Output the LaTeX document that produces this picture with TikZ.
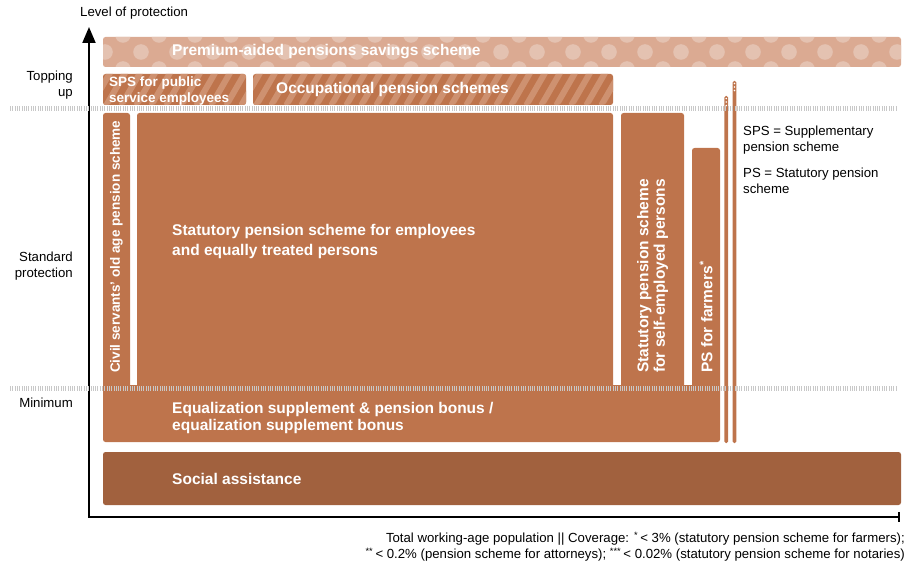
\documentclass[tikz,border=0pt]{standalone}
\usepackage{fontspec}
\setmainfont{Liberation Sans}
\usepackage{xcolor}
\usetikzlibrary{arrows.meta, positioning, calc}

\definecolor{rust}{RGB}{190,116,76}
\definecolor{rustdark}{RGB}{161,97,62}
\definecolor{rustlight}{RGB}{219,170,146}
\definecolor{dotlight}{RGB}{228,194,177}
\definecolor{stripelight}{RGB}{206,145,112}
\definecolor{tickgray}{RGB}{200,200,200}

\tikzstyle{block} = [rectangle, rounded corners=2.5pt, inner sep=0pt, outer sep=0pt, anchor=north west, draw=none, fill=rust]
\tikzstyle{hatched} = [block, path picture={\foreach \i in {-3,...,28} \fill[stripelight] ([xshift=\i*15pt]path picture bounding box.south west) -- ++(7pt,0) -- ++(19pt,33pt) -- ++(-7pt,0) -- cycle;}]
\tikzstyle{polka} = [block, fill=rustlight, path picture={\foreach \k in {0,...,22} {
      \fill[dotlight] ([xshift=\k*36pt+2pt]path picture bounding box.west) circle (7.8pt);
      \fill[dotlight] ([xshift=\k*36pt+20pt, yshift=17pt]path picture bounding box.west) circle (7.8pt);
      \fill[dotlight] ([xshift=\k*36pt+20pt, yshift=-17pt]path picture bounding box.west) circle (7.8pt);}}]
\tikzstyle{thinbar} = [block, rounded corners=1.5pt, minimum width=3.8pt]
\tikzstyle{boxtext} = [text=white, font=\fontsize{15.5}{16.5}\selectfont\bfseries, align=left, inner sep=0pt, anchor=west]
\tikzstyle{smalltext} = [boxtext, font=\fontsize{13.5}{16}\selectfont\bfseries]
\tikzstyle{vtext} = [boxtext, rotate=90]
\tikzstyle{axistext} = [font=\fontsize{13.2}{16}\selectfont, inner sep=0pt]
\tikzstyle{gauge} = [tickgray, line width=5pt, dash pattern=on 1pt off 1.3pt]

\begin{document}
\begin{tikzpicture}[x=1pt, y=-1pt]
    \useasboundingbox (0,0) rectangle (914,567);

    % Axes
    \coordinate (origin) at (89,517);
    \coordinate (ytip) at (89,27);
    \coordinate (xend) at (900,517);
    \draw[line width=2pt, -{Triangle[length=16pt, width=13pt]}] (origin) -- (ytip);
    \draw[line width=2pt, -{Bar[width=10pt]}] ([xshift=-1pt]origin) -- (xend);
    \node[axistext, anchor=west] (ylabel) at (80,13) {Level of protection};
    \node[axistext, anchor=east, align=right] (topping) at (73,85) {Topping\\up};
    \node[axistext, anchor=east, align=right] (standard) at (73,266) {Standard\\protection};
    \node[axistext, anchor=east] (minimum) at (73,403) {Minimum};

    % Topping up
    \node[polka, minimum width=798pt, minimum height=30pt] (premium) at (103,37) {};
    \node[boxtext, right=69pt of premium.west] (premiumtxt) {Premium-aided pensions savings scheme};
    \node[hatched, minimum width=143pt, minimum height=31pt] (sps) at (103,74) {};
    \node[smalltext, right=6pt of sps.west, yshift=-2pt] (spstxt) {SPS for public\\service employees};
    \node[hatched, minimum width=360pt, minimum height=31pt] (occ) at (253,74) {};
    \node[boxtext, right=23pt of occ.west] (occtxt) {Occupational pension schemes};

    % Standard protection columns
    \node[block, minimum width=27pt, minimum height=280pt] (civil) at (103,113) {};
    \node[block, minimum width=476pt, minimum height=280pt] (main) at (137,113) {};
    \node[block, minimum width=63pt, minimum height=280pt] (self) at (621,113) {};
    \node[block, minimum width=28pt, minimum height=245pt] (farmers) at (692,148) {};

    % Minimum
    \node[block, minimum width=617pt, minimum height=57pt] (equal) at (103,385) {};
    \node[boxtext, anchor=west] (equaltxt) at (172,418) {Equalization supplement \& pension bonus /\\equalization supplement bonus};
    \node[block, fill=rustdark, minimum width=798pt, minimum height=53pt] (social) at (103,452) {};
    \node[boxtext, right=69pt of social.west] (socialtxt) {Social assistance};

    \node[boxtext, font=\fontsize{15.5}{20}\selectfont\bfseries] (maintxt) at (172,241) {Statutory pension scheme for employees\\and equally treated persons};
    \node[smalltext, rotate=90] (civiltxt) at ($(civil.center |- equal.north)+(0,-12)$) {Civil servants' old age pension scheme};
    \node[vtext] (selftxt) at ($(self.center |- equal.north)+(0,-12)$) {Statutory pension scheme\\for self-employed persons};
    \node[vtext] (farmerstxt) at ($(farmers.center |- equal.north)+(0,-12)$) {PS for farmers\textsuperscript{*}};

    % Attorneys and notaries
    \node[thinbar, minimum height=347pt] (attorneys) at (724.3,96) {};
    \node[thinbar, minimum height=362pt] (notaries) at (732.5,81) {};
    \foreach \d in {2.5,6,9.5} {
        \fill[white] ($(attorneys.north)+(0,\d)$) circle (0.9pt);
        \fill[white] ($(notaries.north)+(0,\d)$) circle (0.9pt);
    }

    % Level separators
    \draw[gauge] (10,108.5) -- (897,108.5);
    \draw[gauge] (10,388) -- (897,388);

    % Abbreviations
    \node[axistext, anchor=west, align=left] (spsnote) at (743,140) {SPS = Supplementary\\pension scheme};
    \node[axistext, anchor=west, align=left] (psnote) at (743,181) {PS = Statutory pension\\scheme};

    % Footnote
    \node[axistext, anchor=east, align=right] (coverage) at (905,547) {Total working-age population || Coverage: \textsuperscript{*}\,< 3\% (statutory pension scheme for farmers);\\\textsuperscript{**}\,< 0.2\% (pension scheme for attorneys); \textsuperscript{***}\,< 0.02\% (statutory pension scheme for notaries)};
\end{tikzpicture}
\end{document}
